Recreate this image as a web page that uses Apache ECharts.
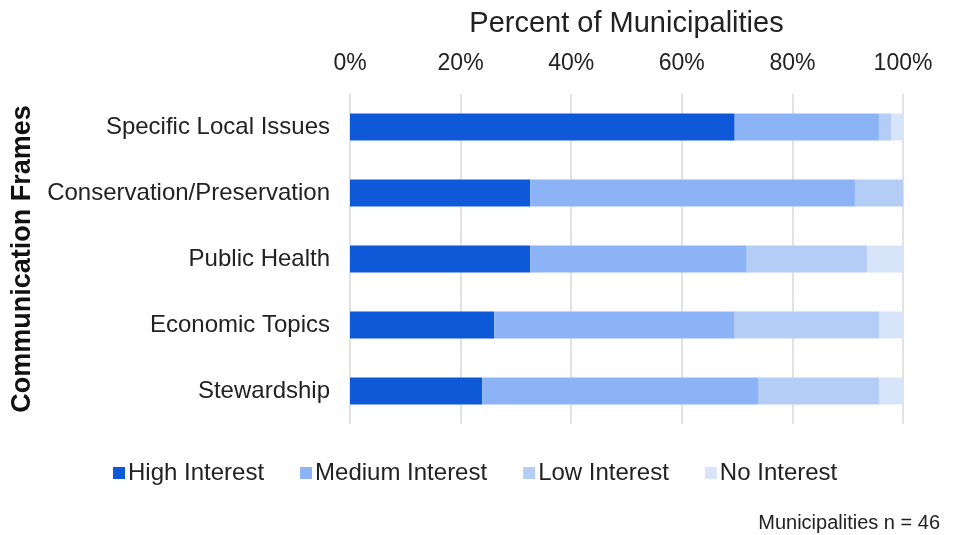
<!DOCTYPE html>
<html>
<head>
<meta charset="utf-8">
<script src="https://cdn.jsdelivr.net/npm/echarts@6/dist/echarts.min.js"></script>
<style>
  html, body { margin: 0; padding: 0; background: #fff; }
  #chart { width: 955px; height: 535px; }
</style>
</head>
<body>
<div id="chart"></div>
<script>
// Survey of municipalities: interest in each communication frame (counts, n = 46)
const totalResponses = 46;
const frames = ['Specific Local Issues', 'Conservation/Preservation', 'Public Health', 'Economic Topics', 'Stewardship'];
const highInterest   = [32, 15, 15, 12, 11];
const mediumInterest = [12, 27, 18, 20, 23];
const lowInterest    = [1, 4, 10, 12, 10];
const noInterest     = [1, 0, 3, 2, 2];
const percentTicks = [0, 20, 40, 60, 80, 100];

const levels = [
  { name: 'High Interest', data: highInterest, color: '#0d59d8' },
  { name: 'Medium Interest', data: mediumInterest, color: '#8cb3f5' },
  { name: 'Low Interest', data: lowInterest, color: '#b3cdf7' },
  { name: 'No Interest', data: noInterest, color: '#d7e4fa' }
];

const toPercent = v => v / totalResponses * 100;

const chart = echarts.init(document.getElementById('chart'), null, { renderer: 'canvas' });
const font = 'Liberation Sans, Arial, sans-serif';

chart.setOption({
  animation: false,
  textStyle: { fontFamily: font },
  grid: { left: 350, right: 52, top: 94, bottom: 111, containLabel: false },
  legend: {
    bottom: 45,
    left: 108,
    itemWidth: 12,
    itemHeight: 12,
    itemGap: 36,
    icon: 'rect',
    textStyle: { fontSize: 24, color: '#222', fontFamily: font, padding: [0, 0, 0, -2] },
    data: levels.map(l => l.name)
  },
  xAxis: {
    type: 'value',
    position: 'top',
    min: 0,
    max: 100,
    interval: 20,
    name: 'Percent of Municipalities',
    nameLocation: 'middle',
    nameGap: 56,
    nameTextStyle: { fontSize: 29, color: '#222', fontFamily: font },
    axisLine: { show: false },
    axisTick: { show: false },
    axisLabel: {
      fontSize: 23,
      color: '#222',
      margin: 19,
      formatter: v => percentTicks.includes(v) ? v + '%' : ''
    },
    splitLine: { show: true, lineStyle: { color: '#d9d9d9', width: 1.5 } }
  },
  yAxis: {
    type: 'category',
    inverse: true,
    data: frames,
    name: 'Communication Frames',
    nameLocation: 'middle',
    nameGap: 314,
    nameRotate: 90,
    nameTextStyle: { fontSize: 27, fontWeight: 'bold', color: '#111', fontFamily: font },
    axisLine: { show: false },
    axisTick: { show: false },
    axisLabel: { fontSize: 24, color: '#222', margin: 20 }
  },
  series: levels.map(l => ({
    name: l.name,
    type: 'bar',
    stack: 'total',
    barWidth: 27,
    itemStyle: { color: l.color },
    data: l.data.map(toPercent)
  })),
  graphic: [{
    type: 'text',
    right: 15,
    bottom: 2,
    style: { text: 'Municipalities n = ' + totalResponses, fontSize: 20, fill: '#222', fontFamily: font }
  }]
});
</script>
</body>
</html>
